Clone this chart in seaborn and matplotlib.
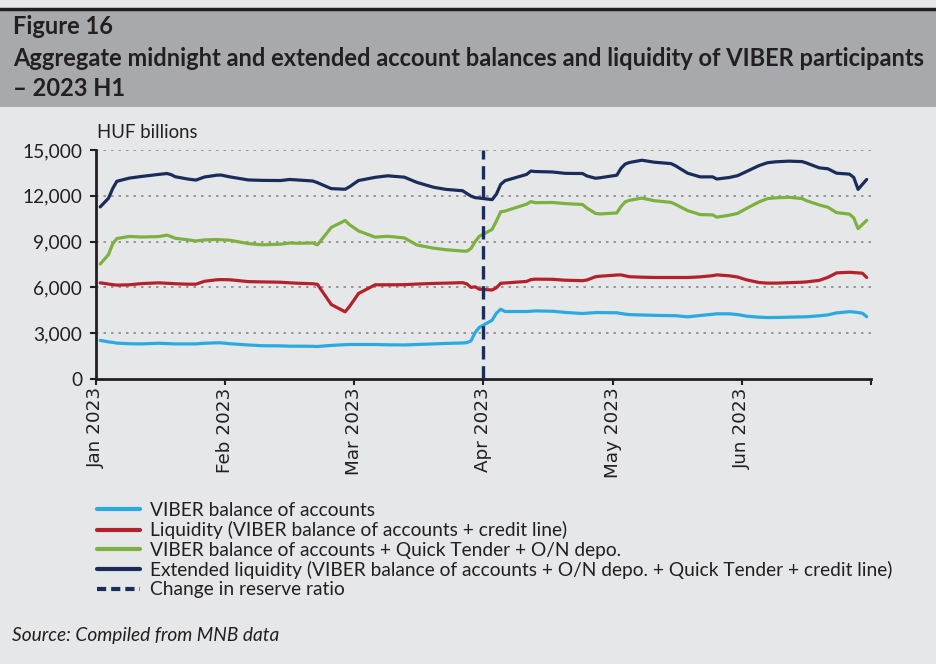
import numpy as np
import pandas as pd
import matplotlib
matplotlib.use("Agg")
import matplotlib.pyplot as plt
from matplotlib.lines import Line2D
from matplotlib.patches import Rectangle
from matplotlib.ticker import FuncFormatter
import seaborn as sns

DATES = [
    "2023-01-02", "2023-01-04", "2023-01-05", "2023-01-06", "2023-01-09", "2023-01-12", "2023-01-16", "2023-01-18",
    "2023-01-19", "2023-01-20", "2023-01-23", "2023-01-25", "2023-01-27", "2023-01-30", "2023-01-31",
    "2023-02-02", "2023-02-06", "2023-02-09", "2023-02-13", "2023-02-15", "2023-02-17", "2023-02-20", "2023-02-21",
    "2023-02-24", "2023-02-27", "2023-02-28",
    "2023-03-02", "2023-03-06", "2023-03-09", "2023-03-13", "2023-03-16", "2023-03-20", "2023-03-23", "2023-03-27",
    "2023-03-28", "2023-03-29", "2023-03-30", "2023-03-31",
    "2023-04-03", "2023-04-04", "2023-04-05", "2023-04-06", "2023-04-11", "2023-04-12", "2023-04-13", "2023-04-17",
    "2023-04-20", "2023-04-24", "2023-04-25", "2023-04-27", "2023-04-28",
    "2023-05-02", "2023-05-03", "2023-05-04", "2023-05-05", "2023-05-08", "2023-05-11", "2023-05-15", "2023-05-16",
    "2023-05-19", "2023-05-22", "2023-05-25", "2023-05-26", "2023-05-29", "2023-05-31",
    "2023-06-02", "2023-06-05", "2023-06-07", "2023-06-09", "2023-06-12", "2023-06-15", "2023-06-16", "2023-06-19",
    "2023-06-21", "2023-06-23", "2023-06-26", "2023-06-27", "2023-06-28", "2023-06-29", "2023-06-30",
]

VIBER = [
    2530, 2430, 2400, 2350, 2310, 2300, 2340, 2320, 2310, 2300, 2300, 2300, 2340, 2370, 2370,
    2310, 2230, 2180, 2170, 2150, 2150, 2140, 2130, 2200, 2250, 2260,
    2260, 2260, 2240, 2230, 2260, 2300, 2330, 2360, 2380, 2500, 3050, 3380,
    3850, 4310, 4570, 4420, 4420, 4440, 4460, 4440, 4360, 4290, 4310, 4350, 4350,
    4340, 4290, 4250, 4220, 4190, 4170, 4150, 4150, 4070, 4160, 4240, 4270, 4270, 4220,
    4120, 4050, 4025, 4030, 4050, 4070, 4075, 4140, 4200, 4330, 4410, 4390, 4350, 4310, 4080,
]

LIQUIDITY = [
    6300, 6220, 6180, 6150, 6170, 6250, 6300, 6270, 6260, 6240, 6210, 6210, 6400, 6500, 6510,
    6500, 6380, 6360, 6340, 6300, 6270, 6240, 6200, 4880, 4400, 4770,
    5600, 6170, 6170, 6180, 6220, 6260, 6280, 6310, 6230, 6000, 6040, 5880,
    5830, 5980, 6270, 6290, 6390, 6510, 6540, 6530, 6470, 6440, 6480, 6700, 6730,
    6810, 6820, 6760, 6700, 6670, 6650, 6650, 6650, 6650, 6690, 6770, 6820, 6760, 6680,
    6500, 6320, 6280, 6280, 6310, 6340, 6360, 6460, 6660, 6950, 6990, 6970, 6950, 6930, 6650,
]

QT_ON = [
    7530, 8150, 8850, 9200, 9340, 9300, 9330, 9420, 9330, 9220, 9120, 9040, 9110, 9135, 9120,
    9090, 8870, 8790, 8830, 8910, 8890, 8910, 8790, 9930, 10380, 10100,
    9700, 9290, 9350, 9240, 8780, 8570, 8470, 8380, 8370, 8550, 9000, 9350,
    9800, 10350, 10950, 11000, 11450, 11620, 11550, 11560, 11490, 11430, 11200, 10850, 10810,
    10880, 11300, 11600, 11700, 11850, 11680, 11570, 11450, 11030, 10770, 10750, 10600, 10730, 10850,
    11160, 11600, 11820, 11870, 11900, 11820, 11680, 11400, 11250, 10900, 10800, 10550, 9850, 10120, 10390,
]

EXTENDED = [
    11270, 11840, 12470, 12950, 13160, 13270, 13400, 13460, 13390, 13250, 13100, 13030, 13230, 13350, 13360,
    13240, 13040, 13010, 13000, 13070, 13030, 12970, 12860, 12470, 12430, 12600,
    13000, 13210, 13310, 13220, 12880, 12560, 12420, 12330, 12150, 11980, 11880, 11850,
    11750, 12110, 12750, 12990, 13400, 13620, 13590, 13560, 13470, 13460, 13300, 13150, 13180,
    13350, 13800, 14080, 14180, 14330, 14200, 14110, 13980, 13480, 13240, 13240, 13100, 13200, 13320,
    13580, 13980, 14170, 14230, 14270, 14240, 14150, 13830, 13770, 13480, 13420, 13200, 12420, 12750, 13070,
]

SERIES = [
    "VIBER balance of accounts",
    "Liquidity (VIBER balance of accounts + credit line)",
    "VIBER balance of accounts + Quick Tender + O/N depo.",
    "Extended liquidity (VIBER balance of accounts + O/N depo. + Quick Tender + credit line)",
]
RESERVE_LABEL = "Change in reserve ratio"
RESERVE_DATE = "2023-04-01"
MONTH_LABELS = ["Jan 2023", "Feb 2023", "Mar 2023", "Apr 2023", "May 2023", "Jun 2023", ""]
Y_TICKS = [0, 3000, 6000, 9000, 12000, 15000]

COLORS = ["#29ABE2", "#B5212A", "#7DB13F", "#1A2D5A"]
BG = "#E6E7E8"
HEADER = "#A7A9AC"
INK = "#231F20"


def month_pos(dates):
    # the axis gives every month the same width
    d = pd.to_datetime(pd.Series(dates))
    return (d.dt.month - 1) + (d.dt.day - 1) / d.dt.days_in_month


df = pd.DataFrame({"date": DATES})
for name, vals in zip(SERIES, [VIBER, LIQUIDITY, QT_ON, EXTENDED]):
    df[name] = vals
df["pos"] = month_pos(df["date"]).values
long = df.melt(id_vars=["date", "pos"], var_name="series", value_name="value")

sns.set_theme(style="white")
plt.rcParams["font.family"] = ["Lato", "DejaVu Sans"]

fig = plt.figure(figsize=(9.36, 6.64), dpi=100, facecolor=BG)
fig.add_artist(Rectangle((0, 1 - 107 / 664), 1, 97 / 664, transform=fig.transFigure,
                         facecolor=HEADER, edgecolor="none", zorder=0))
fig.add_artist(Line2D([0, 1], [1 - 9 / 664, 1 - 9 / 664], transform=fig.transFigure,
                      color=INK, lw=2.5))

title_kw = dict(fontsize=17.0, weight="bold", va="center", color=INK)
fig.text(13 / 936, 1 - 27 / 664, "Figure 16", **title_kw)
fig.text(13 / 936, 1 - 58 / 664,
         "Aggregate midnight and extended account balances and liquidity of VIBER participants", **title_kw)
fig.text(13 / 936, 1 - 88 / 664, "\u2013 2023 H1", **title_kw)

ax = fig.add_axes([96 / 936, 1 - 379 / 664, 775 / 936, 229 / 664])
ax.set_facecolor(BG)

sns.lineplot(data=long, x="pos", y="value", hue="series", hue_order=SERIES,
             palette=COLORS, linewidth=2.3, legend=False, ax=ax)
ax.axvline(month_pos([RESERVE_DATE]).iloc[0], color=COLORS[3], lw=2.4, ls=(0, (4, 2)), zorder=5)

ax.set_xlim(0, 6)
ax.set_ylim(0, 15000)
ax.set_xticks(range(7))
ax.set_xticklabels(MONTH_LABELS, rotation=90, fontsize=13.2, family="DejaVu Sans", color=INK)
ax.set_yticks(Y_TICKS)
ax.yaxis.set_major_formatter(FuncFormatter(lambda v, p: f"{v:,.0f}"))
ax.tick_params(axis="y", labelsize=13.8, colors=INK, length=4, width=1.5, pad=6, direction="out", left=True)
ax.tick_params(axis="x", length=4, width=1.5, pad=2, direction="out", bottom=True, colors=INK)
ax.set_xlabel("")
ax.set_ylabel("")

for y in Y_TICKS[1:]:
    ax.axhline(y, color="#8A8A8A", lw=1.2, ls=(0, (1.5, 3)), zorder=0)

for side in ["top", "right"]:
    ax.spines[side].set_visible(False)
for side in ["left", "bottom"]:
    ax.spines[side].set_color(INK)
    ax.spines[side].set_linewidth(2)

fig.text(97 / 936, 1 - 133 / 664, "HUF billions", fontsize=13.4, va="center", color=INK)

handles = [Line2D([], [], color=c, lw=3) for c in COLORS]
handles.append(Line2D([], [], color=COLORS[3], lw=3, ls=(0, (2.2, 1.2))))
leg = ax.legend(handles, SERIES + [RESERVE_LABEL], loc="upper left",
                bbox_to_anchor=(97 / 936, 1 - 502 / 664), bbox_transform=fig.transFigure,
                frameon=False, fontsize=13.8, handlelength=2.25, handletextpad=0.5,
                labelspacing=0.12, borderpad=0, borderaxespad=0)
for t in leg.get_texts():
    t.set_color(INK)

fig.text(12 / 936, 1 - 636 / 664, "Source: Compiled from MNB data", fontsize=13.8, style="italic",
         va="center", color=INK)

fig.savefig("out.png", dpi=100, facecolor=BG)
